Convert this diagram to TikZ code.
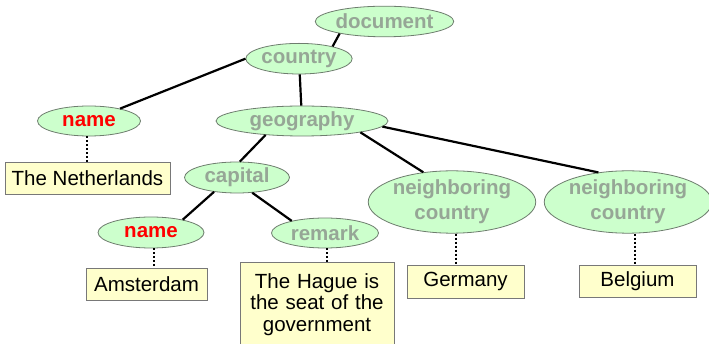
\documentclass[tikz,border=0pt]{standalone}
\usepackage{fontspec}
\setmainfont{Liberation Sans}
\usetikzlibrary{shapes.geometric}
\definecolor{elfill}{RGB}{204,255,204}
\definecolor{elline}{RGB}{110,125,110}
\definecolor{lbl}{RGB}{150,166,150}
\definecolor{boxfill}{RGB}{255,255,204}
\definecolor{boxline}{RGB}{120,120,120}
\definecolor{redlbl}{RGB}{255,0,0}
\tikzset{
  elem/.style={ellipse, draw=elline, line width=0.8pt, fill=elfill, inner sep=0pt,
    font=\fontsize{20.5}{25}\selectfont\bfseries, text=lbl, align=center},
  namel/.style={elem, text=redlbl},
  valbox/.style={rectangle, draw=boxline, line width=0.8pt, fill=boxfill, inner sep=0pt,
    font=\fontsize{20.5}{21.5}\selectfont, text=black, align=center},
  edge/.style={line width=2.2pt, black},
  link/.style={line width=2pt, black, dotted},
}
\begin{document}
\begin{tikzpicture}[x=1pt,y=-1pt]
\useasboundingbox[fill=white] (0,0) rectangle (709,344);
\clip (0,0) rectangle (709,344);
% element nodes
\node[elem, minimum width=105, minimum height=30.6] (doc) at (384.5,21.5) {document};
\node[elem, minimum width=105, minimum height=30.6] (country) at (299,58.7) {country};
\node[namel, minimum width=103, minimum height=30] (name1) at (89,121) {name};
\node[elem, minimum width=172, minimum height=30] (geo) at (302,121) {geography};
\node[elem, minimum width=105, minimum height=31] (capital) at (237,177.5) {capital};
\node[namel, minimum width=106, minimum height=31] (name2) at (151,232.5) {name};
\node[elem, minimum width=107, minimum height=30] (remark) at (325,233) {remark};
\node[elem, minimum width=167, minimum height=61] (nb1) at (452,202) {neighboring\\country};
\node[elem, minimum width=160, minimum height=61] (nb2) at (628,202) {neighboring\\country};
% value boxes
\node[valbox, minimum width=165, minimum height=32] (nl) at (87.5,178) {The Netherlands};
\node[valbox, minimum width=121, minimum height=32] (ams) at (146.5,284) {Amsterdam};
\node[valbox, anchor=north, minimum width=154, minimum height=110] (hague) at (317,262) {};
\node[valbox, draw=none, fill=none, anchor=north, text width=144, inner ysep=11pt] (haguetext) at (hague.north) {The Hague is\\the seat of the\\government};
\node[valbox, minimum width=117, minimum height=33] (ger) at (465.5,281.5) {Germany};
\node[valbox, minimum width=117, minimum height=32] (bel) at (637.5,281) {Belgium};
% tree edges
\draw[edge] (doc.195) -- (country.20);
\draw[edge] (country.west) -- (name1);
\draw[edge] (country) -- (geo);
\draw[edge] (geo.201) -- (capital.80);
\draw[edge] (geo.-11) -- (nb1.134);
\draw[edge] (geo.-4) -- (nb2.135);
\draw[edge] (capital.212) -- (name2.22);
\draw[edge] (capital.-45) -- (remark.160);
% value links
\draw[link] ([xshift=-2pt]name1.south) -- ([xshift=-2pt]name1.south |- nl.north);
\draw[link] ([xshift=3pt]name2.south) -- ([xshift=3pt]name2.south |- ams.north);
\draw[link] ([xshift=1.5pt]remark.south) -- ([xshift=1.5pt]remark.south |- hague.north);
\draw[link] ([xshift=4pt]nb1.south) -- ([xshift=4pt]nb1.south |- ger.north);
\draw[link] ([xshift=7pt]nb2.south) -- ([xshift=7pt]nb2.south |- bel.north);
\end{tikzpicture}
\end{document}
